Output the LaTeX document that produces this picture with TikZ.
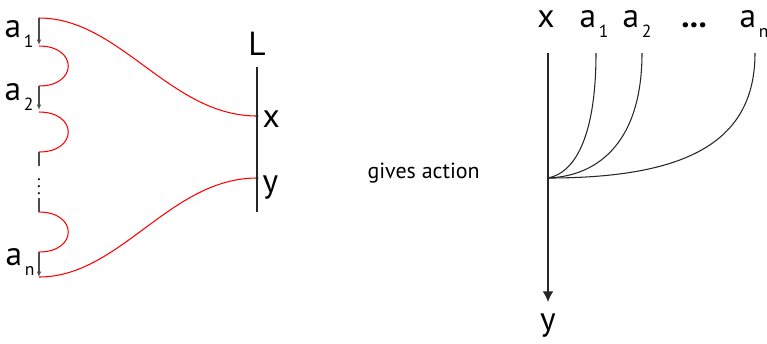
\documentclass[tikz,border=0pt]{standalone}
\usepackage{fontspec}
\setmainfont{PT Sans}
\usetikzlibrary{arrows.meta,positioning,calc}

\newcommand{\bigfont}{\fontsize{19}{22}\selectfont}
\newcommand{\lbl}[2]{a\kern1.5pt\raisebox{-5.8pt}{\fontsize{10}{10}\selectfont #2}}

\begin{document}
\begin{tikzpicture}[x=0.02cm,y=-0.02cm,>=Latex,line width=0.6pt]
  \useasboundingbox (0,0) rectangle (767,343);
  % left picture: chain of a_i glued to the line L
  \coordinate (t1) at (39,18);  \coordinate (b1) at (39,45);
  \coordinate (t2) at (39,86);  \coordinate (b2) at (39,110);
  \coordinate (c2) at (39,152); \coordinate (d2) at (39,166);
  \coordinate (d3) at (39,198); \coordinate (c3) at (39,212);
  \coordinate (tn) at (39,252); \coordinate (bn) at (39,277);
  \coordinate (s1) at (39,46);  \coordinate (s2) at (39,112);
  \coordinate (Ltop) at (257,67); \coordinate (Lbot) at (257,212);
  \coordinate (px) at (257,116); \coordinate (py) at (257,178);

  \draw[black!70,-{Latex[length=3pt,width=2.4pt]}] (t1) -- (b1);
  \draw[black!70,-{Latex[length=3pt,width=2.4pt]}] (t2) -- (b2);
  \draw[black!70,-{Latex[length=3pt,width=2.4pt]}] (tn) -- (bn);
  \draw[black!70] (c2) -- (d2);
  \draw[black!70] (d3) -- (c3);
  \draw[red] (s1) .. controls (78,46) and (78,86) .. (t2);
  \draw[red] (s2) .. controls (78,112) and (78,152) .. (c2);
  \draw[red] (c3) .. controls (78,212) and (78,252) .. (tn);
  \draw[red] (t1) .. controls (120,18) and (170,116) .. (px);
  \draw[red] (bn) .. controls (120,277) and (170,178) .. (py);
  \draw[black!85] (Ltop) -- (Lbot);
  \fill[black!85] (px) circle (1.6) (py) circle (1.6);

  \node[anchor=base east,inner sep=0] (la1) at (34,37) {\bigfont\lbl{a}{1}};
  \node[anchor=base east,inner sep=0] (la2) at (34,100) {\bigfont\lbl{a}{2}};
  \node[anchor=base east,inner sep=0] (lan) at (35,265) {\bigfont\lbl{a}{n}};
  \node[inner sep=0] (vdots) at (39,181) {\fontsize{10}{10}\selectfont$\vdots$};
  \node[anchor=base,inner sep=0] (lL) at (257,55) {\bigfont L};
  \node[anchor=base west,inner sep=0] (lx) at (262,127) {\bigfont x};
  \node[anchor=base west,inner sep=0] (ly) at (262,192) {\bigfont y};

  \node[anchor=base west,inner sep=0] (gives) at (367,178) {\fontsize{12.5}{14}\selectfont gives action};

  % right picture: the tree
  \coordinate (rtop) at (548,53); \coordinate (j) at (548,178);
  \coordinate (rbot) at (548,302);
  \coordinate (e1) at (596,53); \coordinate (e2) at (642,53); \coordinate (en) at (755,53);
  \draw[black!85] (rtop) -- (j);
  \draw[black!85,-{Latex[length=6pt,width=6pt]}] (j) -- (rbot);
  \draw[black!85] (j) .. controls (578,172) and (596,130) .. (e1);
  \draw[black!85] (j) .. controls (600,176) and (642,140) .. (e2);
  \draw[black!85] (j) .. controls (690,178) and (755,140) .. (en);

  \node[anchor=base,inner sep=0] (rx) at (546,27) {\bigfont x};
  \node[anchor=base,inner sep=0] (ra1) at (594,27) {\bigfont\lbl{a}{1}};
  \node[anchor=base,inner sep=0] (ra2) at (637,27) {\bigfont\lbl{a}{2}};
  \node[anchor=base,inner sep=0] (rdots) at (694,27) {\bigfont\textbf{...}};
  \node[anchor=base,inner sep=0] (ran) at (754,27) {\bigfont\lbl{a}{n}};
  \node[anchor=base,inner sep=0] (ry) at (548,330) {\bigfont y};
\end{tikzpicture}
\end{document}
